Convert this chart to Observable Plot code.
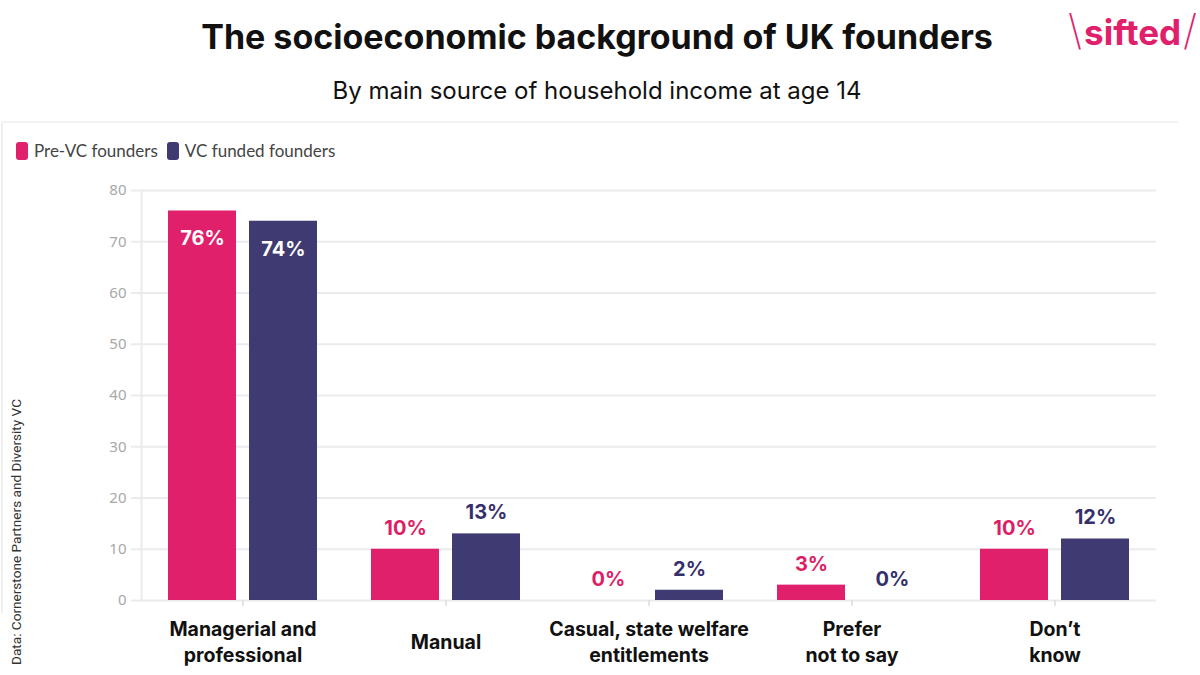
<!DOCTYPE html>
<html>
<head>
<meta charset="utf-8">
<script src="https://cdn.jsdelivr.net/npm/d3@7"></script>
<script src="https://cdn.jsdelivr.net/npm/@observablehq/plot@0.6"></script>
<style>
  html, body { margin: 0; padding: 0; background: #fff; }
  #page { position: relative; width: 1200px; height: 675px; overflow: hidden; background: #fff; }
  #title { position: absolute; left: 0; width: 1194px; top: 20px; text-align: center;
    font-family: Inter, sans-serif; font-weight: 700; font-size: 34px; line-height: 34px; color: #111; }
  #subtitle { position: absolute; left: 0; width: 1194px; top: 79px; text-align: center;
    font-family: Inter, sans-serif; font-weight: 400; font-size: 24px; line-height: 24px; color: #111; }
  #logo { position: absolute; left: 1068px; top: 9px; color: #e0206a; font-family: Inter, sans-serif;
    white-space: nowrap; line-height: 42px; }
  #logo .sl { font-weight: 200; font-size: 42px; }
  #logo .w { font-weight: 700; font-size: 35px; letter-spacing: 0px; margin: 0 2px; }
  #panel { position: absolute; left: 1px; top: 121px; width: 1175px; height: 490px;
    border-top: 2px solid #f3f3f3; border-left: 2px solid #f0f0f0; }
  #legend { position: absolute; left: 16px; top: 140px; display: flex; align-items: center;
    font-family: Lato, sans-serif; font-size: 17px; color: #444; }
  #legend .item { display: flex; align-items: center; margin-right: 9px; }
  #legend .sw { width: 12px; height: 18px; border-radius: 3px; margin-right: 6px; }
  #chart { position: absolute; left: 0; top: 120px; }
  #caption { position: absolute; left: 16px; top: 532px; transform: translate(-50%, -50%) rotate(-90deg);
    white-space: nowrap; font-family: Roboto, sans-serif; font-size: 13.6px; color: #333; }
</style>
</head>
<body>
<div id="page">
  <div id="panel"></div>
  <div id="title">The socioeconomic background of UK founders</div>
  <div id="subtitle">By main source of household income at age 14</div>
  <div id="logo"><span class="sl">\</span><span class="w">sifted</span><span class="sl">/</span></div>
  <div id="legend"></div>
  <div id="chart"></div>
  <div id="caption">Data: Cornerstone Partners and Diversity VC</div>
</div>
<script>
// ---- data ----
const categories = ["Managerial and professional", "Manual", "Casual, state welfare entitlements", "Prefer not to say", "Don’t know"];
const categoryLabels = ["Managerial and\nprofessional", "Manual", "Casual, state welfare\nentitlements", "Prefer\nnot to say", "Don’t\nknow"];
const series = ["Pre-VC founders", "VC funded founders"];
const preVC = [76, 10, 0, 3, 10];
const vcFunded = [74, 13, 2, 0, 12];
const yTicks = [0, 10, 20, 30, 40, 50, 60, 70, 80];
const colors = ["#e0206a", "#403a72"];
const textColors = ["#dc1e65", "#35306b"];

const data = [];
categories.forEach((c, i) => {
  data.push({category: c, series: series[0], value: preVC[i]});
  data.push({category: c, series: series[1], value: vcFunded[i]});
});
const labelOf = new Map(categories.map((c, i) => [c, categoryLabels[i]]));
const textColorOf = new Map(series.map((s, i) => [s, textColors[i]]));

// legend
const legend = document.getElementById("legend");
series.forEach((s, i) => {
  const it = document.createElement("div");
  it.className = "item";
  it.innerHTML = `<div class="sw" style="background:${colors[i]}"></div><span>${s}</span>`;
  legend.appendChild(it);
});

const inside = data.filter(d => d.value >= 50);
const outside = data.filter(d => d.value < 50);

const chart = Plot.plot({
  width: 1200,
  height: 555,
  marginTop: 70,
  marginBottom: 75,
  marginLeft: 140,
  marginRight: 43,
  style: {background: "transparent", overflow: "visible"},
  fx: {domain: categories, padding: 0, label: null},
  x: {domain: series, paddingInner: 0.16, paddingOuter: 0.32, axis: null},
  y: {domain: [0, 80], label: null},
  color: {domain: series, range: colors},
  marks: [
    Plot.gridY(yTicks, {stroke: "#ebebeb", strokeOpacity: 1, strokeWidth: 2}),
    Plot.frame({anchor: "left", facetAnchor: "left", stroke: "#ebebeb", strokeOpacity: 1, strokeWidth: 2}),
    Plot.axisY(yTicks, {tickSize: 10, tickPadding: 5, stroke: "#ebebeb", strokeOpacity: 1, strokeWidth: 2,
      fill: "#a8a8a8", fontSize: 15, fontFamily: "Noto Sans", label: null}),
    Plot.axisFx({anchor: "bottom", tickSize: 6, stroke: "#dcdcdc", strokeWidth: 1.5, tickFormat: () => "", label: null}),
    Plot.barY(data, {fx: "category", x: "series", y: "value", fill: "series"}),
    Plot.text(inside, {fx: "category", x: "series", y: "value", text: d => d.value + "%",
      dy: 28, lineAnchor: "middle", fill: "white", fontSize: 20, fontWeight: 700, fontFamily: "Inter"}),
    Plot.text(outside, {fx: "category", x: "series", y: "value", text: d => d.value + "%",
      dy: -21, lineAnchor: "middle", fill: d => textColorOf.get(d.series), fontSize: 20, fontWeight: 700, fontFamily: "Inter"}),
    Plot.text(categories, {fx: d => d, text: d => labelOf.get(d), frameAnchor: "bottom", dy: 40,
      lineAnchor: "middle", lineHeight: 1.37, fill: "#111", fontSize: 19.5, fontWeight: 700, fontFamily: "Inter"})
  ]
});
document.getElementById("chart").appendChild(chart);
</script>
</body>
</html>
